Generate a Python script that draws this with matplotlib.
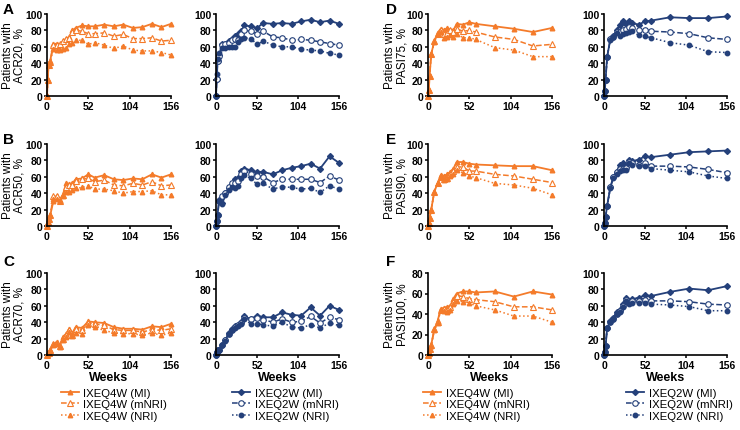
import matplotlib
matplotlib.use('Agg')
import matplotlib.pyplot as plt

plt.rcParams['font.family'] = ['Liberation Sans', 'DejaVu Sans']

ORANGE = '#F47B2A'
NAVY = '#24407A'

# week grids
weeks_acr = [0, 1, 2, 4, 8, 12, 16, 20, 24, 28, 32, 36, 44, 52, 60, 72, 84, 96, 108, 120, 132, 144, 156]
weeks_pasi = [0, 1, 2, 4, 8, 12, 16, 20, 24, 28, 32, 36, 44, 52, 60, 84, 108, 132, 156]

# ACR20
acr20_q4w_mi = [0, 20, 40, 43, 63, 64, 62, 67, 70, 72, 80, 83, 86, 85, 85, 87, 85, 87, 83, 84, 88, 84, 88]
acr20_q4w_mnri = [0, 20, 38, 42, 62, 62, 63, 67, 69, 71, 78, 80, 79, 76, 76, 77, 73, 75, 70, 70, 71, 67, 68]
acr20_q4w_nri = [0, 20, 38, 42, 57, 56, 56, 57, 58, 63, 65, 68, 68, 63, 65, 62, 58, 61, 56, 55, 55, 53, 50]
acr20_q2w_mi = [0, 21, 43, 50, 63, 64, 67, 70, 73, 75, 79, 86, 85, 83, 89, 88, 89, 88, 91, 93, 90, 92, 88]
acr20_q2w_mnri = [0, 21, 43, 49, 62, 63, 65, 68, 70, 68, 76, 80, 79, 76, 79, 72, 71, 68, 69, 68, 66, 64, 62]
acr20_q2w_nri = [0, 27, 45, 52, 58, 59, 60, 60, 60, 66, 70, 71, 70, 63, 67, 62, 60, 60, 57, 56, 55, 52, 50]

# ACR50
acr50_q4w_mi = [0, 5, 8, 13, 30, 37, 32, 38, 52, 51, 52, 57, 58, 63, 59, 62, 57, 56, 58, 57, 63, 59, 63]
acr50_q4w_mnri = [0, 5, 8, 13, 36, 36, 30, 38, 47, 50, 50, 55, 57, 58, 54, 56, 50, 49, 52, 50, 54, 49, 50]
acr50_q4w_nri = [0, 5, 8, 13, 33, 33, 30, 36, 42, 42, 44, 46, 47, 49, 45, 45, 43, 40, 42, 42, 43, 38, 38]
acr50_q2w_mi = [0, 6, 14, 32, 28, 40, 46, 50, 57, 58, 67, 70, 68, 66, 66, 63, 68, 71, 73, 76, 70, 85, 77]
acr50_q2w_mnri = [0, 6, 14, 31, 37, 40, 47, 52, 52, 55, 63, 67, 64, 61, 60, 53, 57, 57, 57, 57, 53, 61, 56]
acr50_q2w_nri = [0, 6, 14, 30, 27, 38, 44, 48, 46, 49, 58, 62, 58, 51, 52, 45, 48, 47, 45, 46, 41, 49, 45]

# ACR70
acr70_q4w_mi = [0, 2, 3, 6, 13, 16, 11, 22, 26, 32, 27, 34, 33, 41, 40, 39, 34, 32, 32, 31, 35, 34, 38]
acr70_q4w_mnri = [0, 2, 3, 6, 13, 15, 11, 20, 24, 30, 25, 32, 30, 39, 38, 36, 31, 30, 30, 28, 31, 30, 32]
acr70_q4w_nri = [0, 2, 3, 6, 12, 14, 10, 18, 22, 28, 23, 27, 26, 36, 34, 30, 27, 26, 26, 24, 27, 24, 27]
acr70_q2w_mi = [0, 4, 6, 6, 12, 18, 27, 32, 35, 37, 40, 47, 44, 48, 46, 46, 52, 49, 48, 58, 48, 60, 55]
acr70_q2w_mnri = [0, 4, 6, 6, 12, 18, 26, 31, 34, 36, 39, 45, 44, 45, 43, 40, 44, 40, 41, 47, 39, 46, 43]
acr70_q2w_nri = [0, 4, 6, 6, 12, 17, 26, 30, 33, 35, 38, 44, 38, 38, 37, 35, 40, 34, 33, 37, 33, 39, 36]

# PASI75
pasi75_q4w_mi = [0, 7, 24, 51, 67, 77, 82, 80, 83, 81, 80, 88, 87, 90, 88, 85, 82, 78, 83]
pasi75_q4w_mnri = [0, 7, 24, 51, 67, 76, 80, 76, 77, 80, 78, 82, 79, 80, 78, 72, 69, 61, 63]
pasi75_q4w_nri = [0, 7, 24, 51, 66, 75, 78, 71, 72, 74, 72, 76, 71, 71, 69, 59, 56, 48, 48]
pasi75_q2w_mi = [0, 6, 20, 48, 69, 73, 80, 87, 92, 88, 92, 89, 87, 91, 92, 96, 95, 95, 97]
pasi75_q2w_mnri = [0, 6, 20, 48, 69, 72, 78, 78, 80, 82, 84, 83, 80, 81, 79, 78, 76, 71, 69]
pasi75_q2w_nri = [0, 6, 20, 48, 68, 72, 77, 73, 75, 77, 78, 79, 74, 73, 71, 65, 62, 54, 53]

# PASI90
pasi90_q4w_mi = [0, 4, 10, 20, 42, 52, 62, 61, 63, 66, 70, 78, 78, 76, 75, 74, 73, 73, 68]
pasi90_q4w_mnri = [0, 4, 10, 20, 42, 52, 60, 57, 58, 64, 67, 72, 72, 67, 67, 63, 61, 57, 53]
pasi90_q4w_nri = [0, 4, 10, 20, 42, 52, 60, 56, 57, 61, 64, 68, 65, 61, 59, 52, 50, 46, 38]
pasi90_q2w_mi = [0, 4, 11, 25, 47, 60, 66, 75, 77, 72, 81, 79, 81, 85, 84, 87, 90, 91, 92]
pasi90_q2w_mnri = [0, 4, 11, 25, 47, 60, 66, 70, 70, 71, 78, 77, 75, 77, 73, 73, 72, 69, 65]
pasi90_q2w_nri = [0, 4, 11, 24, 46, 59, 64, 67, 68, 68, 77, 75, 73, 73, 70, 68, 66, 61, 58]

# PASI100
pasi100_q4w_mi = [0, 2, 6, 10, 25, 33, 45, 46, 47, 48, 55, 60, 62, 62, 61, 62, 57, 62, 59]
pasi100_q4w_mnri = [0, 2, 6, 10, 25, 32, 44, 45, 44, 47, 52, 58, 57, 55, 54, 52, 47, 47, 44]
pasi100_q4w_nri = [0, 2, 6, 9, 24, 31, 44, 43, 42, 44, 50, 53, 52, 51, 48, 44, 38, 38, 32]
pasi100_q2w_mi = [0, 4, 11, 33, 41, 45, 52, 55, 62, 69, 64, 68, 70, 73, 72, 77, 81, 79, 84]
pasi100_q2w_mnri = [0, 4, 11, 33, 40, 44, 50, 54, 60, 67, 63, 66, 66, 67, 66, 66, 65, 62, 61]
pasi100_q2w_nri = [0, 4, 11, 33, 40, 44, 50, 53, 58, 66, 62, 64, 64, 63, 62, 61, 59, 54, 54]

labels_q4w = ['IXEQ4W (MI)', 'IXEQ4W (mNRI)', 'IXEQ4W (NRI)']
labels_q2w = ['IXEQ2W (MI)', 'IXEQ2W (mNRI)', 'IXEQ2W (NRI)']

fig = plt.figure(figsize=(7.4, 4.31), dpi=100)

W, H = 740.0, 431.0
col_x = [47, 216, 428, 604]
col_w = [124, 123, 124, 123]
row_top = [15, 145, 274]
row_h = 82


def make_ax(r, c):
    x0 = col_x[c] / W
    y0 = 1 - (row_top[r] + row_h) / H
    return fig.add_axes([x0, y0, col_w[c] / W, row_h / H])


def style(ax, ymax=100, xlabel=False):
    ax.set_xlim(0, 156)
    ax.set_ylim(0, ymax)
    ax.set_xticks([0, 52, 104, 156])
    ax.set_yticks(range(0, ymax + 1, 20))
    for s in ['top', 'right']:
        ax.spines[s].set_visible(False)
    for s in ['left', 'bottom']:
        ax.spines[s].set_linewidth(1.2)
    ax.tick_params(length=2.5, width=1.1, labelsize=7.5, pad=1)
    for t in ax.get_xticklabels() + ax.get_yticklabels():
        t.set_fontweight('bold')
    if xlabel:
        ax.set_xlabel('Weeks', fontsize=9, fontweight='bold', labelpad=1)


def plot_q4w(ax, x, mi, mnri, nri):
    h1, = ax.plot(x, mi, '-', color=ORANGE, lw=1.3, marker='^', ms=3.3, clip_on=False)
    h2, = ax.plot(x, mnri, '--', color=ORANGE, lw=1.1, marker='^', ms=4.2,
                  mfc='white', mec=ORANGE, mew=0.8, clip_on=False)
    h3, = ax.plot(x, nri, ':', color=ORANGE, lw=1.1, marker='^', ms=3.2, clip_on=False)
    return [h1, h2, h3]


def plot_q2w(ax, x, mi, mnri, nri):
    h1, = ax.plot(x, mi, '-', color=NAVY, lw=1.3, marker='D', ms=3, clip_on=False)
    h2, = ax.plot(x, mnri, '--', color=NAVY, lw=1.1, marker='o', ms=4,
                  mfc='white', mec=NAVY, mew=0.8, clip_on=False)
    h3, = ax.plot(x, nri, ':', color=NAVY, lw=1.1, marker='o', ms=3.2, clip_on=False)
    return [h1, h2, h3]


panels = [
    (0, 0, 'q4w', weeks_acr, acr20_q4w_mi, acr20_q4w_mnri, acr20_q4w_nri, 'ACR20', 100),
    (0, 1, 'q2w', weeks_acr, acr20_q2w_mi, acr20_q2w_mnri, acr20_q2w_nri, None, 100),
    (1, 0, 'q4w', weeks_acr, acr50_q4w_mi, acr50_q4w_mnri, acr50_q4w_nri, 'ACR50', 100),
    (1, 1, 'q2w', weeks_acr, acr50_q2w_mi, acr50_q2w_mnri, acr50_q2w_nri, None, 100),
    (2, 0, 'q4w', weeks_acr, acr70_q4w_mi, acr70_q4w_mnri, acr70_q4w_nri, 'ACR70', 100),
    (2, 1, 'q2w', weeks_acr, acr70_q2w_mi, acr70_q2w_mnri, acr70_q2w_nri, None, 100),
    (0, 2, 'q4w', weeks_pasi, pasi75_q4w_mi, pasi75_q4w_mnri, pasi75_q4w_nri, 'PASI75', 100),
    (0, 3, 'q2w', weeks_pasi, pasi75_q2w_mi, pasi75_q2w_mnri, pasi75_q2w_nri, None, 100),
    (1, 2, 'q4w', weeks_pasi, pasi90_q4w_mi, pasi90_q4w_mnri, pasi90_q4w_nri, 'PASI90', 100),
    (1, 3, 'q2w', weeks_pasi, pasi90_q2w_mi, pasi90_q2w_mnri, pasi90_q2w_nri, None, 100),
    (2, 2, 'q4w', weeks_pasi, pasi100_q4w_mi, pasi100_q4w_mnri, pasi100_q4w_nri, 'PASI100', 80),
    (2, 3, 'q2w', weeks_pasi, pasi100_q2w_mi, pasi100_q2w_mnri, pasi100_q2w_nri, None, 100),
]

# legend anchor x (axes fraction) for bottom row
leg_x = {0: 0.11, 1: 0.13, 2: -0.04, 3: 0.18}

for r, c, arm, x, mi, mnri, nri, name, ymax in panels:
    ax = make_ax(r, c)
    if arm == 'q4w':
        hs = plot_q4w(ax, x, mi, mnri, nri)
        labs = labels_q4w
    else:
        hs = plot_q2w(ax, x, mi, mnri, nri)
        labs = labels_q2w
    style(ax, ymax, xlabel=(r == 2))
    if name:
        ax.set_ylabel('Patients with\n' + name + ', %', fontsize=8.5, linespacing=1.0)
        ax.yaxis.set_label_coords(-0.17 if c == 0 else -0.16, 0.5)
    if r == 2:
        ax.legend(hs, labs, loc='upper left', bbox_to_anchor=(leg_x[c], -0.40),
                  frameon=False, fontsize=8.2, handlelength=1.6, handletextpad=0.4,
                  labelspacing=0.12, borderpad=0, borderaxespad=0)

for letter, px, py in [('A', 3, 3), ('B', 3, 133), ('C', 3, 255),
                       ('D', 386, 3), ('E', 386, 133), ('F', 386, 255)]:
    fig.text(px / W, 1 - py / H, letter, fontsize=11, fontweight='bold', va='top')

fig.savefig('out.png', dpi=100)
